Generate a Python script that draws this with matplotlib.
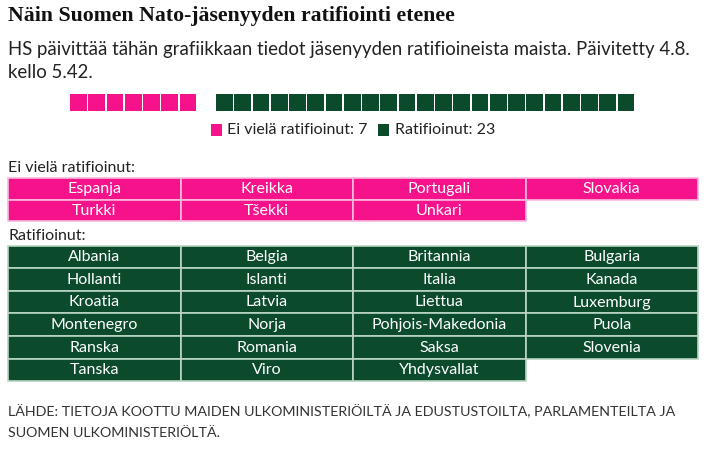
""" Waffle + table: Finland's NATO membership ratification status """

import matplotlib.pyplot as plt
from matplotlib.patches import Rectangle

# Data
not_ratified = ['Espanja', 'Kreikka', 'Portugali', 'Slovakia',
                'Turkki', 'Tšekki', 'Unkari']
ratified = ['Albania', 'Belgia', 'Britannia', 'Bulgaria',
            'Hollanti', 'Islanti', 'Italia', 'Kanada',
            'Kroatia', 'Latvia', 'Liettua', 'Luxemburg',
            'Montenegro', 'Norja', 'Pohjois-Makedonia', 'Puola',
            'Ranska', 'Romania', 'Saksa', 'Slovenia',
            'Tanska', 'Viro', 'Yhdysvallat']
labels = ['Ei vielä ratifioinut', 'Ratifioinut']
counts = [len(not_ratified), len(ratified)]

pink = '#f5128a'
green = '#0b4b2c'
sans = ['Lato', 'DejaVu Sans']

fig = plt.figure(figsize=(7.24, 4.55), dpi=100)
ax = fig.add_axes([0, 0, 1, 1])
ax.set_xlim(0, 724)
ax.set_ylim(455, 0)
ax.axis('off')

# Title and subtitle
ax.text(8, 16, 'Näin Suomen Nato-jäsenyyden ratifiointi etenee',
        family='Liberation Serif', weight='bold', fontsize=15.7, va='center',
        color='#111111')
ax.text(8, 49, 'HS päivittää tähän grafiikkaan tiedot jäsenyyden ratifioineista maista. Päivitetty 4.8.',
        family=sans, fontsize=13.4, va='center', color='#222222')
ax.text(8, 73, 'kello 5.42.', family=sans, fontsize=13.4, va='center', color='#222222')

# Waffle row: one empty slot between the groups
slot = 18.25
x0 = 70
i = 0
for n, col in zip(counts, [pink, green]):
    for _ in range(n):
        ax.add_patch(Rectangle((x0 + i * slot, 94), slot - 1.5, 17, color=col, lw=0))
        i += 1
    i += 1

# Legend
ax.add_patch(Rectangle((211, 124), 11, 12, color=pink, lw=0))
ax.text(227, 130, f'{labels[0]}: {counts[0]}', family=sans, fontsize=11.5, va='center',
        color='#222222')
ax.add_patch(Rectangle((378, 124), 11, 12, color=green, lw=0))
ax.text(395, 130, f'{labels[1]}: {counts[1]}', family=sans, fontsize=11.5, va='center',
        color='#222222')


def draw_table(names, top, row_h, col, edge):
    col_w = (698 - 8) / 4
    for k, name in enumerate(names):
        r, c = divmod(k, 4)
        x = 8 + c * col_w
        y = top + r * row_h
        ax.add_patch(Rectangle((x, y), col_w, row_h, facecolor=col,
                               edgecolor=edge, lw=1.2))
        ax.text(x + col_w / 2, y + row_h / 2 + 0.5, name, family=sans, fontsize=11.5,
                ha='center', va='center', color='white')


ax.text(8, 168, 'Ei vielä ratifioinut:', family=sans, fontsize=11.5, va='center',
        color='#222222')
draw_table(not_ratified, 178, 21.7, pink, '#fbb8dc')

ax.text(8, 236, 'Ratifioinut:', family=sans, fontsize=11.5, va='center', color='#222222')
draw_table(ratified, 245.5, 22.6, green, '#b9d6c2')

# Source
ax.text(8, 411, 'LÄHDE: TIETOJA KOOTTU MAIDEN ULKOMINISTERIÖILTÄ JA EDUSTUSTOILTA, PARLAMENTEILTA JA',
        family=sans, fontsize=10.3, va='center', color='#333333')
ax.text(8, 433, 'SUOMEN ULKOMINISTERIÖLTÄ.', family=sans, fontsize=10.3, va='center',
        color='#333333')

fig.savefig('out.png', dpi=100)
